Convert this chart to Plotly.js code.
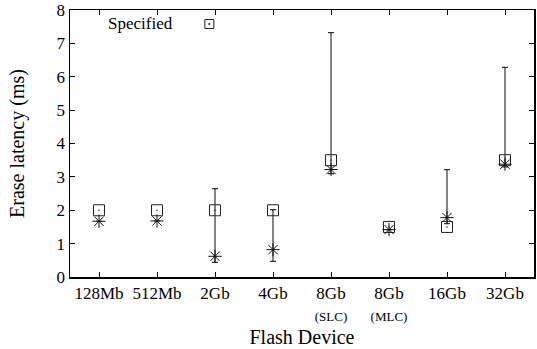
<!DOCTYPE html>
<html>
<head>
<meta charset="utf-8">
<script src="https://cdn.plot.ly/plotly-3.0.1.min.js"></script>
<style>html,body{margin:0;padding:0;background:#fff;}#chart{width:537px;height:349px;}</style>
</head>
<body>
<div id="chart"></div>
<script>
const categories = ['128Mb', '512Mb', '2Gb', '4Gb', '8Gb', '8Gb', '16Gb', '32Gb'];
const subLabels = ['', '', '', '', '(SLC)', '(MLC)', '', ''];
const specified = [2, 2, 2, 2, 3.5, 1.5, 1.5, 3.5];
const measured = [1.67, 1.68, 0.62, 0.82, 3.22, 1.42, 1.78, 3.38];
const measuredMax = [1.67, 1.68, 2.65, 2.02, 7.32, 1.42, 3.22, 6.28];
const measuredMin = [1.67, 1.68, 0.44, 0.47, 3.1, 1.42, 1.6, 3.3];
const yTicks = [0, 1, 2, 3, 4, 5, 6, 7, 8];

const idx = categories.map((c, i) => i);
const tickText = categories.map((c, i) => subLabels[i] ? c + '<br><span style="font-size:13px">' + subLabels[i] + '</span>' : c);
const font = 'Liberation Serif';

const traces = [
  {
    x: idx, y: specified, type: 'scatter', mode: 'markers', name: 'Specified',
    marker: {symbol: 'square-open-dot', size: 11, color: '#222', line: {width: 1, color: '#222'}},
    showlegend: false, cliponaxis: false
  },
  {
    x: idx, y: measured, type: 'scatter', mode: 'markers', name: 'Measured',
    marker: {symbol: 'asterisk-open', size: 11, color: '#111', line: {width: 1, color: '#111'}},
    error_y: {
      type: 'data', symmetric: false,
      array: measuredMax.map((v, i) => v - measured[i]),
      arrayminus: measured.map((v, i) => v - measuredMin[i]),
      color: '#333', thickness: 1.2, width: 3
    },
    showlegend: false, cliponaxis: false
  }
];

const axisCommon = {
  showline: true, linecolor: '#000', linewidth: 1.5, mirror: 'ticks',
  ticks: 'inside', ticklen: 5, tickwidth: 1, tickcolor: '#000',
  showgrid: false, zeroline: false,
  tickfont: {family: font, size: 17, color: '#000'}
};

const layout = {
  width: 537, height: 349,
  font: {family: font, color: '#000'},
  margin: {l: 70, r: 3, t: 10, b: 72},
  paper_bgcolor: '#fff', plot_bgcolor: '#fff',
  showlegend: false,
  xaxis: Object.assign({}, axisCommon, {
    range: [-0.5, 7.5], tickvals: idx, ticktext: tickText,
    title: {text: 'Flash Device', font: {family: font, size: 20, color: '#000'}, standoff: 7}
  }),
  yaxis: Object.assign({}, axisCommon, {
    range: [0, 8], tickvals: yTicks, ticktext: yTicks.map(String),
    title: {text: 'Erase latency (ms)', font: {family: font, size: 20, color: '#000'}, standoff: 26}
  }),
  annotations: [{
    xref: 'paper', yref: 'paper', x: 0.227, y: 0.95, xanchor: 'right', yanchor: 'middle',
    text: 'Specified', showarrow: false, font: {family: font, size: 17, color: '#000'}
  }],
  shapes: [
    {type: 'rect', xref: 'paper', yref: 'paper', xsizemode: 'pixel', ysizemode: 'pixel',
     xanchor: 0.3003, yanchor: 0.9475, x0: -4.5, x1: 4.5, y0: -4.5, y1: 4.5,
     line: {color: '#222', width: 1}},
    {type: 'rect', xref: 'paper', yref: 'paper', xsizemode: 'pixel', ysizemode: 'pixel',
     xanchor: 0.3003, yanchor: 0.9475, x0: -0.6, x1: 0.6, y0: -0.6, y1: 0.6,
     line: {color: '#222', width: 0.6}, fillcolor: '#222'}
  ]
};

Plotly.newPlot('chart', traces, layout, {staticPlot: true, displayModeBar: false});
</script>
</body>
</html>
